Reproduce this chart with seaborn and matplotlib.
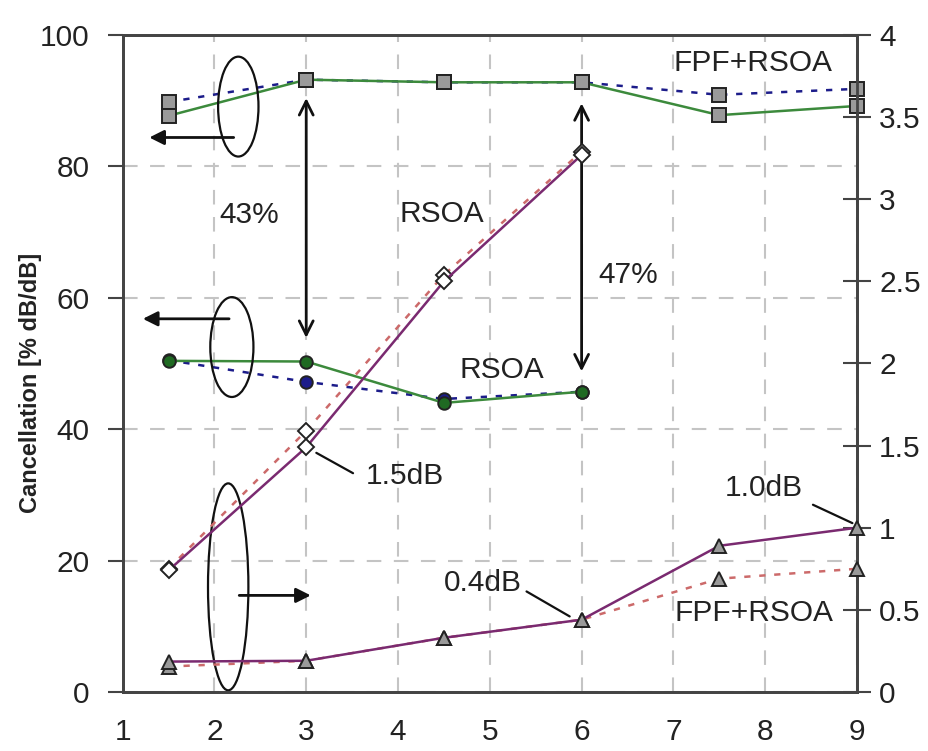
import matplotlib
matplotlib.use("Agg")
import matplotlib.pyplot as plt
from matplotlib.patches import Ellipse
import seaborn as sns
import pandas as pd

# ---- data ----
x_all = [1.5, 3, 4.5, 6, 7.5, 9]
x_rsoa = [1.5, 3, 4.5, 6]
canc_fpf_solid = [87.7, 93.2, 92.8, 92.8, 87.8, 89.2]
canc_fpf_dotted = [89.8, 93.2, 92.8, 92.8, 90.9, 91.8]
canc_rsoa_solid = [50.4, 50.3, 44.0, 45.7]
canc_rsoa_dotted = [50.5, 47.2, 44.6, 45.7]
pen_rsoa_solid = [0.74, 1.49, 2.50, 3.27]
pen_rsoa_dotted = [0.75, 1.59, 2.54, 3.29]
pen_fpf_solid = [0.185, 0.19, 0.33, 0.44, 0.89, 1.00]
pen_fpf_dotted = [0.155, 0.19, 0.33, 0.44, 0.69, 0.75]
left_ticks = [0, 20, 40, 60, 80, 100]
right_ticks = [0, 0.5, 1, 1.5, 2, 2.5, 3, 3.5, 4]
right_labels = ["0", "0.5", "1", "1.5", "2", "2.5", "3", "3.5", "4"]
x_ticks = [1, 2, 3, 4, 5, 6, 7, 8, 9]

sns.set_theme(style="white")
plt.rcParams["font.family"] = ["Liberation Sans", "DejaVu Sans"]

fig = plt.figure(figsize=(9.29, 7.51), dpi=100)
ax = fig.add_axes([0.132, 0.0786, 0.7905, 0.8748])
ax2 = ax.twinx()

GREEN = "#3c8a3c"
GREEN_M = "#1f6a22"
BLUE = "#1c1c8a"
PURPLE = "#7a2a70"
RED = "#cc6a6a"
GRAY = "#9a9a9a"


def draw(axis, x, y, color, ls, marker, mfc, ms, lw=1.8, z=3):
    df = pd.DataFrame({"x": x, "y": y})
    sns.lineplot(data=df, x="x", y="y", ax=axis, color=color, linestyle=ls,
                 linewidth=lw, marker=marker, markerfacecolor=mfc,
                 markeredgecolor="#222222", markeredgewidth=1.4,
                 markersize=ms, errorbar=None, zorder=z, legend=False,
                 clip_on=False)


DOT = (0, (2.5, 3.5))
# cancellation (left axis)
draw(ax, x_all, canc_fpf_dotted, BLUE, DOT, "s", GRAY, 10)
draw(ax, x_all, canc_fpf_solid, GREEN, "-", "s", GRAY, 10)
draw(ax, x_rsoa, canc_rsoa_dotted, BLUE, DOT, "o", BLUE, 9)
draw(ax, x_rsoa, canc_rsoa_solid, GREEN, "-", "o", GREEN_M, 9)
# penalty (right axis)
draw(ax2, x_rsoa, pen_rsoa_dotted, RED, DOT, "D", "white", 8.5)
draw(ax2, x_rsoa, pen_rsoa_solid, PURPLE, "-", "D", "white", 8.5)
draw(ax2, x_all, pen_fpf_dotted, RED, DOT, "^", GRAY, 10.5)
draw(ax2, x_all, pen_fpf_solid, PURPLE, "-", "^", GRAY, 10.5)

# axes setup
ax.set_xlim(1, 9)
ax.set_ylim(0, 100)
ax2.set_ylim(0, 4)
ax.set_xticks(x_ticks)
ax.set_yticks(left_ticks)
ax2.set_yticks(right_ticks)
ax2.set_yticklabels(right_labels)
ax.set_xlabel("")
ax2.set_ylabel("")
ax.set_ylabel("Cancellation [% dB/dB]", fontsize=17, fontweight="bold", color="#222222")
ax.yaxis.set_label_coords(-0.11, 0.47)

ax.grid(True, color="#c4c4c4", linestyle=(0, (7, 6)), linewidth=1.5)
ax2.grid(False)
ax.set_axisbelow(True)

for a in (ax, ax2):
    for s in a.spines.values():
        s.set_color("#444444")
        s.set_linewidth(2)
ax.tick_params(axis="y", direction="out", length=11, width=1.5, color="#444444",
               labelsize=21.5, pad=13, labelcolor="#222222")
ax.tick_params(axis="x", direction="out", length=11, width=1.5, color="#444444",
               labelsize=21.5, pad=8, labelcolor="#222222")
ax2.tick_params(axis="y", direction="inout", length=20, width=1.5, color="#444444",
                labelsize=21.5, pad=6, labelcolor="#222222")

# ellipses
for (cx, cy, w, h) in [(2.26, 89.1, 0.44, 15.2), (2.19, 52.5, 0.47, 15.2), (2.15, 16.0, 0.44, 31.5)]:
    ax.add_patch(Ellipse((cx, cy), w, h, fill=False, edgecolor="#111111", lw=1.6, zorder=5))

arrow_kw = dict(arrowstyle="-|>", color="#111111", lw=2, mutation_scale=22)
ax.annotate("", xy=(1.26, 84.4), xytext=(2.24, 84.4), arrowprops=arrow_kw, zorder=6)
ax.annotate("", xy=(1.19, 56.8), xytext=(2.19, 56.8), arrowprops=arrow_kw, zorder=6)
ax.annotate("", xy=(3.08, 14.7), xytext=(2.24, 14.7), arrowprops=arrow_kw, zorder=6)

dbl_kw = dict(arrowstyle="<->", color="#111111", lw=2, mutation_scale=25,
              shrinkA=0, shrinkB=0)
ax.annotate("", xy=(3, 90.4), xytext=(3, 53.9), arrowprops=dbl_kw, zorder=6)
ax.annotate("", xy=(6, 89.6), xytext=(6, 48.8), arrowprops=dbl_kw, zorder=6)

TXT = dict(fontsize=21.5, color="#222222", ha="center", va="center", zorder=7)
ax.text(7.87, 95.7, "FPF+RSOA", **TXT)
ax.text(2.38, 72.6, "43%", **TXT)
ax.text(4.48, 72.8, "RSOA", **TXT)
ax.text(6.51, 63.5, "47%", **TXT)
ax.text(5.13, 49.0, "RSOA", **TXT)
ax.text(4.07, 32.8, "1.5dB", **TXT)
ax.text(4.92, 16.6, "0.4dB", **TXT)
ax.text(7.99, 31.0, "1.0dB", **TXT)
ax.text(7.88, 12.0, "FPF+RSOA", **TXT)

lead_kw = dict(arrowstyle="-", color="#111111", lw=1.6, shrinkA=0, shrinkB=0)
ax.annotate("", xy=(3.11, 36.4), xytext=(3.51, 33.3), arrowprops=lead_kw)
ax.annotate("", xy=(5.87, 11.5), xytext=(5.40, 15.3), arrowprops=lead_kw)
ax.annotate("", xy=(8.95, 25.7), xytext=(8.52, 28.5), arrowprops=lead_kw)

fig.savefig("out.png", dpi=100)
